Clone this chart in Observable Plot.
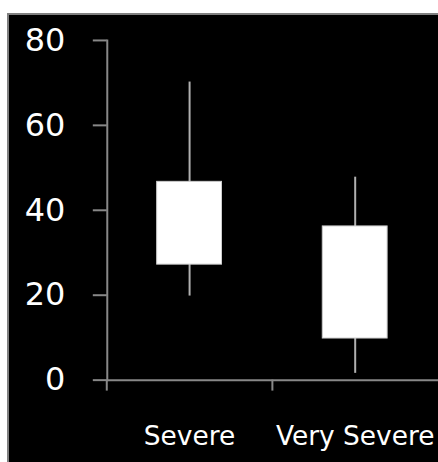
<!DOCTYPE html>
<html>
<head>
<meta charset="utf-8">
<script src="https://cdn.jsdelivr.net/npm/d3@7"></script>
<script src="https://cdn.jsdelivr.net/npm/@observablehq/plot@0.6"></script>
<style>
  html, body { margin: 0; padding: 0; background: white; }
  #frame {
    margin-left: 7px;
    margin-top: 13px;
    border-left: 2px solid #808080;
    border-top: 2px solid #808080;
    background: black;
    width: 429px;
    height: 447px;
    overflow: hidden;
  }
  #frame svg { display: block; }
</style>
</head>
<body>
<div id="frame"></div>
<script>
const categories = ["Severe", "Very Severe"];
const minValues = [19.8, 1.6];
const q1Values = [27.2, 9.8];
const q3Values = [46.7, 36.2];
const maxValues = [70.2, 47.8];
const yTicks = [0, 20, 40, 60, 80];

const data = categories.map((c, i) => ({
  cat: c, min: minValues[i], q1: q1Values[i], q3: q3Values[i], max: maxValues[i]
}));

const width = 430, height = 447;
const marginLeft = 98, marginRight = 0, marginTop = 25, marginBottom = 81.5;
const halfStep = (width - marginLeft - marginRight) / categories.length / 2;
const axisColor = "#888888";

const chart = Plot.plot({
  width, height, marginLeft, marginRight, marginTop, marginBottom,
  style: { background: "black", color: "white", fontFamily: "'DejaVu Sans', sans-serif" },
  x: { type: "band", domain: categories, paddingInner: 0.608, paddingOuter: 0.304, label: null },
  y: { domain: [0, 80], ticks: yTicks, label: null },
  marks: [
    Plot.frame({ anchor: "left", stroke: axisColor, strokeWidth: 2 }),
    Plot.axisY({ ticks: yTicks, tickSize: 14, tickPadding: 28, fontSize: 32, stroke: axisColor, strokeWidth: 2, fill: "white", label: null }),
    Plot.axisX({ tickSize: 11, tickFormat: () => "", dx: -halfStep, stroke: axisColor, strokeWidth: 2, label: null }),
    Plot.axisX({ tickSize: 0, tickPadding: 46, fontSize: 26.5, fill: "white", label: null }),
    Plot.ruleY([0], { stroke: axisColor, strokeWidth: 2 }),
    Plot.ruleX(data, { x: "cat", y1: "min", y2: "max", stroke: "#b0b0b0", strokeWidth: 2 }),
    Plot.barY(data, { x: "cat", y1: "q1", y2: "q3", fill: "white", stroke: "#cccccc", strokeWidth: 1 })
  ]
});
document.getElementById("frame").appendChild(chart);
</script>
</body>
</html>
